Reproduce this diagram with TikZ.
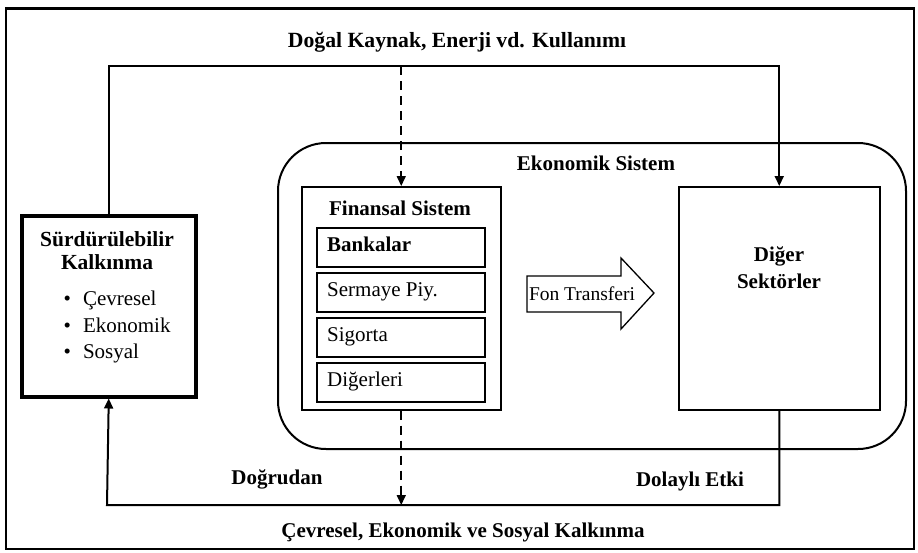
\documentclass[tikz,border=0pt]{standalone}
\usepackage{fontspec}
\setmainfont{Liberation Serif}
\usetikzlibrary{arrows.meta}
\begin{document}
\begin{tikzpicture}[x=1pt,y=-1pt,
  every node/.style={inner sep=0pt, font=\fontsize{21}{25}\selectfont},
  box/.style={draw, line width=1.5pt, anchor=north west},
  conn/.style={line width=2pt},
  tip/.style={-{Triangle[length=10pt,width=9pt]}},
  dashline/.style={line width=1.6pt, dash pattern=on 9pt off 6pt},
  lbl/.style={font=\bfseries\fontsize{21}{25}\selectfont},
  txt/.style={anchor=west, text height=14pt, text depth=5pt}
]
\useasboundingbox (0,0) rectangle (918,552);
% frame
\draw[line width=1.5pt] (6,8) rectangle (914,549);
\draw[line width=3pt] (6,8) -- (914,8);

% economic system
\node[draw, line width=2pt, rounded corners=48pt, minimum width=628pt, minimum height=306pt, anchor=north west] (eko) at (277,142) {};
\node[lbl] (ekoT) at (596,163) {Ekonomik Sistem};

% sustainable development box
\node[box, line width=3.5pt, minimum width=174pt, minimum height=181pt] (sur) at (20,214) {};
\node[lbl, align=center, font=\bfseries\fontsize{21.5}{23}\selectfont] (surT) at (107,251) {Sürdürülebilir\\Kalkınma};
\node[anchor=west, align=left, font=\fontsize{21}{26.5}\selectfont] (surL) at (63.5,327) {\textbullet\hspace{12pt}Çevresel\\\textbullet\hspace{12pt}Ekonomik\\\textbullet\hspace{12pt}Sosyal};

% financial system
\node[box, minimum width=199pt, minimum height=223pt] (fin) at (301,186) {};
\node[lbl] (finT) at (400,208) {Finansal Sistem};
\node[box, minimum width=168pt, minimum height=39pt] (bank) at (316,227) {};
\node[box, minimum width=168pt, minimum height=39pt] (serm) at (316,272) {};
\node[box, minimum width=168pt, minimum height=39pt] (sig) at (316,317) {};
\node[box, minimum width=168pt, minimum height=39pt] (dig2) at (316,362) {};
\node[txt, font=\bfseries\fontsize{21}{25}\selectfont] (bankT) at ([xshift=11pt]bank.west) {Bankalar};
\node[txt] (sermT) at ([xshift=11pt]serm.west) {Sermaye Piy.};
\node[txt] (sigT) at ([xshift=11pt]sig.west) {Sigorta};
\node[txt] (dig2T) at ([xshift=11pt]dig2.west) {Diğerleri};

% fund transfer arrow
\draw[line width=1.3pt] (527,276) -- (621,276) -- (621,258) -- (654,293) -- (621,329) -- (621,312) -- (527,312) -- cycle;
\node[font=\fontsize{19.5}{23}\selectfont] (fon) at (582,294) {Fon Transferi};

% other sectors
\node[box, minimum width=201pt, minimum height=223pt] (dig) at (678,186) {};
\node[lbl, align=center, font=\bfseries\fontsize{21}{27}\selectfont] (digT) at (779,268) {Diğer\\Sektörler};

% connectors
\coordinate (tl) at (107,66);
\coordinate (bl) at (107,505);
\draw[conn,tip] (sur.north) -- (sur.north |- tl) -| (dig.north);
\draw[conn,tip] (dig.south) |- (bl) -- (sur.south);
\draw[dashline,tip] (fin.north |- tl) -- (fin.north);
\draw[dashline,tip] (fin.south) -- (fin.south |- bl);

% labels
\node[lbl, font=\bfseries\fontsize{21.7}{25}\selectfont] (t1) at (457,42) {Doğal Kaynak, Enerji vd. Kullanımı};
\node[lbl] (t2) at (463,532) {Çevresel, Ekonomik ve Sosyal Kalkınma};
\node[lbl] (dog) at (277,479) {Doğrudan};
\node[lbl] (dol) at (690,481) {Dolaylı Etki};
\end{tikzpicture}
\end{document}
